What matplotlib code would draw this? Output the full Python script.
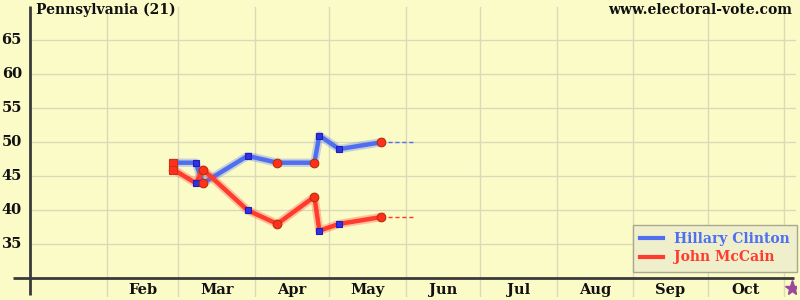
import matplotlib
matplotlib.use("Agg")
import matplotlib.pyplot as plt
import matplotlib.dates as mdates
import matplotlib.patheffects as pe
import datetime as dt

# ---- data ----
poll_dates = ["2008-02-28", "2008-03-08", "2008-03-11", "2008-03-29", "2008-04-10",
              "2008-04-25", "2008-04-27", "2008-05-05", "2008-05-22"]
clinton = [47, 47, 44, 48, 47, 47, 51, 49, 50]
mccain = [46, 44, 46, 40, 38, 42, 37, 38, 39]
poll_kind = ["a", "b", "c", "b", "c", "c", "b", "b", "c"]
extend_to = "2008-06-04"
month_labels = ["Feb", "Mar", "Apr", "May", "Jun", "Jul", "Aug", "Sep", "Oct"]
y_ticks = [35, 40, 45, 50, 55, 60, 65]
title = "Pennsylvania (21)"
site = "www.electoral-vote.com"
election_day = "2008-11-04"
series_names = ["Hillary Clinton", "John McCain"]

# ---- style ----
BG = "#fbfbc8"
GRID = "#dadab8"
AXIS = "#3a3a3a"
BLUE = "#4f6ff0"
RED = "#ff3b2e"
FONT = "DejaVu Serif"

d = lambda s: mdates.date2num(dt.datetime.strptime(s, "%Y-%m-%d"))
xs = [d(s) for s in poll_dates]
jan1 = d("2008-01-01")
px_day = 2.473
px_unit = 6.8

fig = plt.figure(figsize=(8, 3), dpi=100, facecolor=BG)
ax = fig.add_axes([13 / 800, 3 / 300, 783 / 800, 292 / 300])
ax.set_facecolor(BG)
for s in ax.spines.values():
    s.set_visible(False)
ax.set_xticks([])
ax.set_yticks([])

x0 = jan1 - 17 / px_day
x1 = jan1 + (796 - 30) / px_day
y0 = 30 - (297 - 278.3) / px_unit
y1 = 30 + (278.3 - 5) / px_unit
ax.set_xlim(x0, x1)
ax.set_ylim(y0, y1)

# grid
for v in y_ticks:
    ax.plot([jan1, x1], [v, v], color=GRID, lw=1, zorder=1)
month_starts = [d("2008-%02d-01" % m) for m in range(2, 12)]
for m in month_starts:
    ax.plot([m, m], [y0, 30 + (278.3 - 7) / px_unit], color=GRID, lw=1, zorder=1)

# axes lines
ax.plot([jan1, jan1], [30 - (295 - 278.3) / px_unit, 30 + (278.3 - 6) / px_unit],
        color=AXIS, lw=2, zorder=3, solid_capstyle="butt")
ax.plot([x0, jan1 + (794 - 30) / px_day], [30, 30], color=AXIS, lw=2, zorder=3,
        solid_capstyle="butt")

# y tick labels
for v in y_ticks:
    ax.text(jan1 - 8 / px_day, v, str(v), ha="right", va="center",
            fontsize=10.5, fontweight="bold", family=FONT, color="#111111")

# month labels
for i, lab in enumerate(month_labels):
    mid = (month_starts[i] + month_starts[i + 1]) / 2
    ax.text(mid, 30 - (290 - 278.3) / px_unit, lab, ha="center", va="center",
            fontsize=10.5, fontweight="bold", family=FONT, color="#111111")

# lines with glow
glow = lambda c: [pe.Stroke(linewidth=6, foreground=c, alpha=0.3), pe.Normal()]
ax.plot(xs, clinton, color=BLUE, lw=3.2, zorder=4, path_effects=glow(BLUE),
        solid_joinstyle="round")
ax.plot(xs, mccain, color=RED, lw=3.2, zorder=4, path_effects=glow(RED),
        solid_joinstyle="round")
# dashed extension
xe = d(extend_to)
ax.plot([xs[-1], xe], [clinton[-1], clinton[-1]], color=BLUE, lw=1, ls=(0, (3, 2)), zorder=3)
ax.plot([xs[-1], xe], [mccain[-1], mccain[-1]], color=RED, lw=1, ls=(0, (3, 2)), zorder=3)

# markers
styles = {
    "a": dict(marker="s", ms=5.5, mfc="#ff3020", mec="#d03010"),
    "b": dict(marker="s", ms=4.8, mfc="#3030e8", mec="#2020b0"),
    "c": dict(marker="o", ms=6.2, mfc="#ff3020", mec="#b83000"),
}
for x, c, m, k in zip(xs, clinton, mccain, poll_kind):
    ax.plot([x], [c], ls="none", zorder=6, mew=0.8, **styles[k])
    ax.plot([x], [m], ls="none", zorder=6, mew=0.8, **styles[k])

# election star
ax.plot([d(election_day)], [30 - (288 - 278.3) / px_unit], marker="*", ms=11,
        color="#9b4a9b", ls="none", zorder=6)

# titles
fig.text(36 / 800, 1 - 10 / 300, title, ha="left", va="center", fontsize=10,
         fontweight="bold", family=FONT, color="#111111")
fig.text(792 / 800, 1 - 10 / 300, site, ha="right", va="center", fontsize=10,
         fontweight="bold", family=FONT, color="#111111")

# legend
h1, = ax.plot([], [], color=BLUE, lw=3)
h2, = ax.plot([], [], color=RED, lw=3)
leg = ax.legend([h1, h2], series_names, loc="lower right",
                bbox_to_anchor=((797 - 13) / 783, (300 - 272 - 3) / 292),
                prop=dict(family=FONT, weight="bold", size=10),
                frameon=True, fancybox=False, handlelength=1.6,
                borderpad=0.55, labelspacing=0.3, handletextpad=0.8,
                borderaxespad=0)
leg.get_frame().set_facecolor("#efefcc")
leg.get_frame().set_edgecolor("#a8a890")
leg.get_frame().set_alpha(1)
for t, c in zip(leg.get_texts(), [BLUE, RED]):
    t.set_color(c)
leg.set_zorder(10)

fig.savefig("out.png", dpi=100, facecolor=BG)
